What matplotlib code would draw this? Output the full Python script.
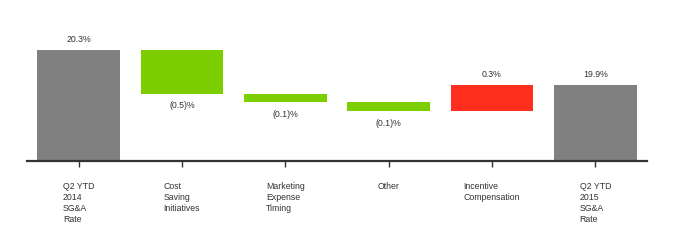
import numpy as np
import matplotlib.pyplot as plt

plt.rcParams['font.family'] = ['Liberation Sans', 'DejaVu Sans']

# Data
categories = ['Q2 YTD\n2014\nSG&A\nRate', 'Cost\nSaving\nInitiatives',
              'Marketing\nExpense\nTiming', 'Other',
              'Incentive\nCompensation', 'Q2 YTD\n2015\nSG&A\nRate']
changes = [20.3, -0.5, -0.1, -0.1, 0.3, 19.9]
kinds = ['total', 'delta', 'delta', 'delta', 'delta', 'total']
value_labels = ['20.3%', '(0.5)%', '(0.1)%', '(0.1)%', '0.3%', '19.9%']

GRAY = '#808080'
GREEN = '#7dce00'
RED = '#ff2f1f'
BASE = 19.03

fig = plt.figure(figsize=(6.8, 2.4), dpi=100)
ax = fig.add_axes([27 / 680, 79 / 240, 620 / 680, 161 / 240])

x = np.arange(len(categories))
running = 0.0
for i, (val, kind) in enumerate(zip(changes, kinds)):
    if kind == 'total':
        bottom, height, color = BASE, val - BASE, GRAY
        running = val
        top = val
    else:
        start = running
        running = start + val
        bottom, height = min(start, running), abs(val)
        color = GREEN if val < 0 else RED
        top = max(start, running)
    ax.bar(x[i], height, bottom=bottom, width=0.8, color=color, edgecolor='none')
    if kind == 'delta' and val < 0:
        ax.annotate(value_labels[i], (x[i], bottom), xytext=(0, -12),
                    textcoords='offset pixels', ha='center', va='center',
                    fontsize=6.3, color='#333333')
    else:
        ax.annotate(value_labels[i], (x[i], top), xytext=(0, 10),
                    textcoords='offset pixels', ha='center', va='center',
                    fontsize=6.3, color='#333333')

ax.set_xlim(-0.5, len(categories) - 0.5)
ax.set_ylim(BASE, BASE + 161 / 87.5)

for s in ['top', 'right', 'left']:
    ax.spines[s].set_visible(False)
ax.spines['bottom'].set_color('#333333')
ax.spines['bottom'].set_linewidth(1.6)
ax.set_yticks([])
ax.set_xticks(x)
ax.set_xticklabels(categories, fontsize=6.3, color='#333333', ha='center',
                   va='top', multialignment='left', linespacing=1.3)
ax.tick_params(axis='x', length=4, width=1, color='#333333', pad=11)

fig.savefig('out.png', dpi=100)
